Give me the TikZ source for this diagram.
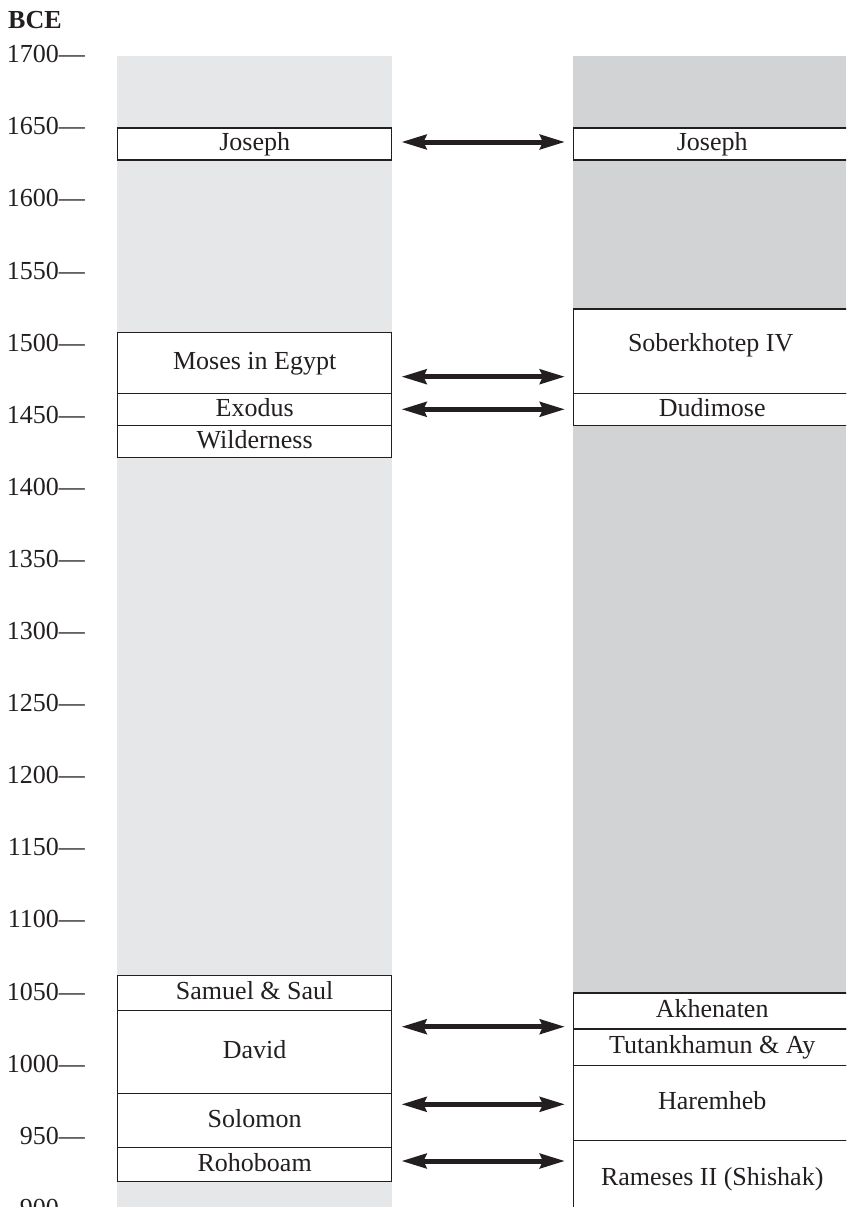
\documentclass[tikz,border=0pt]{standalone}
\usepackage{fontspec}
\setmainfont{Liberation Serif}
\usetikzlibrary{arrows.meta}
\definecolor{ink}{HTML}{231F20}
\definecolor{colL}{HTML}{E6E7E8}
\definecolor{colR}{HTML}{D1D3D4}
\tikzset{
  evbox/.style={draw=ink, line width=1.4pt, fill=white, anchor=north west,
    inner sep=0pt, text height=18.2pt, text depth=5.2pt,
    font=\fontsize{26}{30}\selectfont, text=ink},
  lbox/.style={evbox, minimum width=274pt},
  rbox/.style={evbox, minimum width=277pt},
  tick/.style={anchor=base east, inner sep=0pt, font=\fontsize{26}{30}\selectfont, text=ink},
  linkarrow/.style={draw=ink, line width=5pt,
    {Stealth[length=25pt,width=14.5pt,inset=3pt]}-{Stealth[length=25pt,width=14.5pt,inset=3pt]},
    shorten <=9pt, shorten >=8pt}
}
\begin{document}
\begin{tikzpicture}[x=1pt,y=-1pt]
\useasboundingbox (0,0) rectangle (846,1207);
\begin{scope}
\clip (0,0) rectangle (846,1207);
% columns
\fill[colL] (117,56) rectangle (392,1207);
\fill[colR] (573,56) rectangle (846,992.3);
% header
\node[anchor=base west, inner sep=0pt, font=\fontsize{26}{30}\selectfont\bfseries, text=ink] (bce) at (8,28.3) {BCE};
% ticks
\foreach \yr [count=\i from 0] in {1700,1650,1600,1550,1500,1450,1400,1350,1300,1250,1200,1150,1100,1050,1000,950,900}{
  \node[tick] (t\yr) at (85,{55.2+\i*72.1+7.5}) {\yr—};
}
% left boxes
\node[lbox, minimum height=32pt] (ljos) at (117,127.3) {Joseph};
\node[lbox, minimum height=60.7pt] (lmos) at (117,332) {Moses in Egypt};
\node[lbox, minimum height=32.3pt] (lexo) at (117,392.7) {Exodus};
\node[lbox, minimum height=31.7pt] (lwil) at (117,425) {Wilderness};
\node[lbox, minimum height=35.5pt] (lsam) at (117,974.5) {Samuel \& Saul};
\node[lbox, minimum height=83pt] (ldav) at (117,1010) {David};
\node[lbox, minimum height=53.7pt] (lsol) at (117,1093) {Solomon};
\node[lbox, minimum height=34.3pt] (lroh) at (117,1146.7) {Rohoboam};
% right boxes
\node[rbox, minimum height=32pt] (rjos) at (573,127.3) {Joseph};
\node[rbox, minimum height=84.4pt] (rsob) at (573,308.3) {};
\node[anchor=base, inner sep=0pt, font=\fontsize{26}{30}\selectfont, text=ink] (rsobt) at ([xshift=-1.5pt]rsob.center) {Soberkhotep IV};
\node[rbox, minimum height=32.3pt] (rdud) at (573,392.7) {Dudimose};
\node[rbox, minimum height=36pt] (rakh) at (573,992.3) {Akhenaten};
\node[rbox, minimum height=36.7pt] (rtut) at (573,1028.3) {Tutankhamun \& Ay};
\node[rbox, minimum height=75pt] (rhar) at (573,1065) {Haremheb};
\node[rbox, minimum height=77pt] (rram) at (573,1140) {Rameses II (Shishak)};
% arrow levels
\coordinate (yjos) at (0,142);
\coordinate (ymos) at (0,376.7);
\coordinate (yexo) at (0,409.3);
\coordinate (ydav) at (0,1026.7);
\coordinate (ysol) at (0,1104.3);
\coordinate (yroh) at (0,1161);
\draw[linkarrow] (ljos.east |- yjos) -- (rjos.west |- yjos);
\draw[linkarrow] (lmos.east |- ymos) -- (rsob.west |- ymos);
\draw[linkarrow] (lexo.east |- yexo) -- (rdud.west |- yexo);
\draw[linkarrow] (ldav.east |- ydav) -- (rtut.west |- ydav);
\draw[linkarrow] (lsol.east |- ysol) -- (rhar.west |- ysol);
\draw[linkarrow] (lroh.east |- yroh) -- (rram.west |- yroh);
\end{scope}
\end{tikzpicture}
\end{document}
